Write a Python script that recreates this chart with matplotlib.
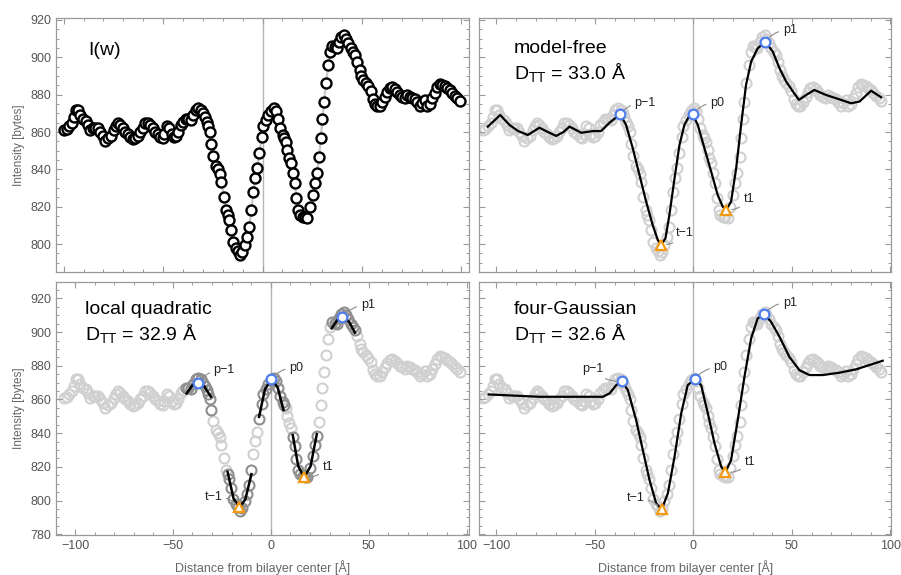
import numpy as np
import matplotlib
matplotlib.use("Agg")
import matplotlib.pyplot as plt
from matplotlib.ticker import MultipleLocator, FixedLocator

plt.rcParams["font.family"] = ["Liberation Sans", "DejaVu Sans"]

# measured intensity profile I(w)
dist = [-105.4, -104.3, -102.9, -101.7, -100.7, -99.5, -98.3, -97.3, -96.1, -94.4,
        -93.2, -92.2, -91.0, -89.8, -88.4, -87.1, -85.9, -84.7, -83.0, -81.6,
        -80.3, -79.0, -77.9, -76.9, -75.7, -74.5, -73.1, -71.8, -70.6, -69.4,
        -68.0, -66.7, -65.5, -64.3, -62.9, -61.7, -60.4, -59.2, -57.8, -56.5,
        -55.3, -54.4, -53.1, -51.9, -50.7, -49.7, -48.5, -47.3, -45.9, -44.6,
        -43.4, -42.2, -40.8, -39.5, -38.3, -37.1, -35.7, -34.5, -33.7, -32.7,
        -32.0, -31.1, -30.3, -29.4, -28.1, -26.9, -25.9, -25.2, -24.1, -23.0,
        -22.1, -21.3, -20.4, -19.2, -17.9, -16.7, -15.5, -14.6, -13.4, -12.2,
        -11.0, -9.9, -8.9, -8.0, -7.1, -5.8, -4.7, -3.9, -2.6, -1.2,
        0.3, 1.4, 2.6, 3.7, 4.8, 6.0, 6.8, 7.7, 8.5, 9.4,
        10.2, 11.2, 12.2, 13.1, 14.1, 15.0, 16.2, 17.3, 18.7, 20.1,
        21.3, 22.4, 23.5, 24.7, 25.5, 26.4, 27.2, 28.2, 29.4, 30.3,
        31.5, 32.7, 33.7, 34.9, 36.1, 37.4, 38.3, 39.5, 40.8, 42.0,
        43.0, 44.2, 45.4, 46.3, 47.3, 48.5, 49.7, 51.0, 52.2, 53.2,
        54.4, 55.6, 57.0, 58.2, 59.5, 60.7, 62.1, 63.3, 64.6, 65.8,
        67.2, 68.4, 69.7, 71.1, 72.3, 73.5, 74.8, 76.0, 77.4, 78.6,
        79.9, 81.1, 82.5, 83.7, 85.0, 86.2, 87.6, 88.8, 90.1, 91.3,
        92.7, 94.0, 95.3, 96.6]
intensity = [861, 861.4, 863, 865, 868, 872, 872, 869, 867, 866,
             864, 861, 862, 862, 862, 860, 858, 855, 857, 858,
             861, 863, 865, 864, 862, 860, 859, 857.5, 856, 857,
             858, 860, 862, 865, 865, 864, 862, 860, 859, 857.5,
             857, 859, 863, 862, 859, 857.5, 858, 860, 864, 865.5,
             867, 867, 866.5, 869, 872, 873, 872, 870, 868, 865.5,
             863, 860, 853.6, 847, 842, 840, 837.5, 833, 825, 818,
             815.5, 813, 807.5, 801, 797.7, 796.4, 794, 795.5, 799.5, 804,
             809.3, 818, 827.7, 835.5, 840.5, 848.6, 857.5, 863, 866.4, 869,
             871.4, 872.7, 871, 867, 862.3, 858.4, 857, 854.8, 850.4, 846,
             843.2, 838, 832.5, 824.8, 818.2, 815.5, 814.6, 814.3, 813.8, 819.6,
             826.3, 832.9, 838.2, 846.8, 857, 866.8, 876.2, 886.4, 896, 903,
             906, 905.4, 904.8, 908.4, 911, 912, 910, 907.5, 905, 903,
             901, 897.7, 893.2, 890, 888, 886.4, 884.6, 882, 877.5, 875,
             874, 874, 876.2, 879, 881.6, 883.4, 884, 883, 881.6, 880,
             879, 878, 880, 879, 878, 877.5, 876.2, 874, 875.4, 877,
             874, 875, 878, 881, 884.3, 885.7, 885, 884.5, 883.5, 882.5,
             881, 879.5, 878, 876.5]

# the two right panels show the profile slightly shifted
right_shift = -1.3

# model-free smooth curve
mf_x = [-104.4, -98.1, -93.4, -89.0, -84.1, -78.2, -73.9, -69.7, -66.0, -62.9,
        -57.0, -51.1, -46.9, -42.6, -37.2, -34.2, -30.8, -27.4, -24.0, -20.7,
        -18.1, -16.4, -14.2, -12.2, -9.6, -7.1, -4.6, -2.0, -0.4, 2.2,
        5.6, 9.0, 12.3, 14.9, 16.6, 19.1, 21.7, 24.2, 26.7, 29.3,
        32.6, 36.5, 40.3, 43.7, 47.1, 50.0, 53.5, 57.2, 61.4, 67.4,
        74.1, 80.0, 84.3, 90.2, 95.3]
mf_y = [862.9, 869.1, 863.8, 860.5, 858.4, 862.3, 860.0, 857.9, 860.0, 862.9,
        859.6, 860.5, 860.5, 865.0, 869.5, 863.8, 851.3, 837.0, 822.7, 810.2,
        802.2, 799.5, 803.1, 815.6, 835.2, 853.0, 863.8, 868.8, 869.5, 863.8,
        851.3, 838.8, 826.3, 820.0, 818.2, 822.7, 840.6, 863.8, 885.2, 897.7,
        904.8, 908.4, 903.0, 894.1, 887.0, 882.5, 877.2, 879.8, 882.5, 879.8,
        877.5, 875.4, 876.3, 882.1, 878.6]

# local quadratic segments (p-1, t-1, p0, t1, p1)
lq_x = [[-43.0, -40.0, -37.4, -34.0, -30.6],
        [-22.1, -19.0, -16.0, -13.0, -9.9],
        [-6.0, -3.0, 0.3, 3.5, 6.5],
        [11.2, 14.0, 17.0, 20.3, 23.5],
        [31.1, 34.0, 36.6, 40.0, 43.0]]
lq_y = [[863.6, 868.5, 869.9, 867.8, 861.6],
        [817.1, 801.1, 796.0, 800.8, 815.7],
        [849.7, 866.0, 872.1, 867.2, 853.7],
        [838.9, 820.5, 813.8, 820.4, 839.5],
        [902.2, 907.2, 908.7, 906.1, 899.6]]

# four-Gaussian model curve
fg_x = [-103.9, -78.2, -46.0, -42.6, -39.2, -36.4, -33.3, -29.1, -25.7, -22.3,
        -18.9, -16.1, -13.0, -9.6, -6.2, -2.9, 0.8, 3.9, 7.3, 10.7,
        14.1, 16.2, 19.1, 22.5, 25.9, 29.3, 32.6, 36.0, 39.4, 43.7,
        48.7, 53.8, 58.9, 65.6, 74.1, 82.6, 96.1]
fg_y = [863.0, 861.6, 861.6, 863.6, 868.5, 870.9, 865.6, 847.8, 830.0, 812.2,
        798.3, 794.8, 804.3, 826.0, 851.8, 868.5, 872.3, 868.5, 851.8, 834.0,
        820.1, 816.7, 824.0, 847.8, 873.5, 896.3, 908.1, 910.7, 906.1, 897.2,
        885.3, 877.4, 874.5, 874.5, 875.9, 877.9, 883.0]

# peaks / troughs per panel: (x, y) of p-1, p0, p1 and t-1, t1
names_p = ["p\u22121", "p0", "p1"]
names_t = ["t\u22121", "t1"]
mf_peaks = [(-37.2, 869.5), (-0.4, 869.5), (36.5, 908.4)]
mf_troughs = [(-16.4, 799.5), (16.6, 818.2)]
lq_peaks = [(-37.4, 869.9), (0.3, 872.1), (36.6, 908.7)]
lq_troughs = [(-16.0, 796.0), (17.0, 813.8)]
fg_peaks = [(-36.4, 870.9), (0.8, 872.3), (36.0, 910.7)]
fg_troughs = [(-16.1, 794.8), (16.2, 816.7)]

# label positions (x, y, horizontal alignment)
mf_plab = [(-29.9, 875.7, "left"), (8.5, 875.7, "left"), (45.3, 914.6, "left")]
mf_tlab = [(-9.1, 805.7, "left"), (25.4, 824.0, "left")]
lq_plab = [(-29.2, 877.5, "left"), (9.3, 878.8, "left"), (45.9, 916.0, "left")]
lq_tlab = [(-24.8, 802.2, "right"), (26.4, 820.0, "left")]
fg_plab = [(-45.7, 877.9, "right"), (10.2, 879.0, "left"), (45.3, 917.4, "left")]
fg_tlab = [(-24.9, 801.3, "right"), (25.9, 823.0, "left")]

BLUE = "#4d7ded"
ORANGE = "#f39a12"
LIGHT = "#d0d0d0"
FRAME = "#9a9a9a"

fig = plt.figure(figsize=(9.01, 5.75), dpi=100)
ax_tl = fig.add_axes([0.0622, 0.5275, 0.4587, 0.4407])
ax_tr = fig.add_axes([0.532, 0.5275, 0.4569, 0.4407])
ax_bl = fig.add_axes([0.0622, 0.0696, 0.4587, 0.4405])
ax_br = fig.add_axes([0.532, 0.0696, 0.4569, 0.4405])


def rahmen(ax, xlim, ylim, xlabels, ylabels):
    ax.set_xlim(*xlim)
    ax.set_ylim(*ylim)
    for s in ax.spines.values():
        s.set_color(FRAME)
        s.set_linewidth(0.9)
    ax.yaxis.set_major_locator(MultipleLocator(20))
    ax.yaxis.set_minor_locator(MultipleLocator(5))
    ax.tick_params(which="both", direction="in", top=True, right=True,
                   colors=FRAME, labelcolor="#555555", labelsize=9)
    ax.tick_params(which="major", length=4.5, width=0.8)
    ax.tick_params(which="minor", length=2.5, width=0.7)
    if not xlabels:
        ax.tick_params(labelbottom=False)
    if not ylabels:
        ax.tick_params(labelleft=False)
    else:
        ax.set_ylabel("Intensity [bytes]", color="#666666", fontsize=8.5, labelpad=4)


def beschrifte(ax, peaks, troughs, plab, tlab):
    for (px, py), name, (lx, ly, ha) in zip(peaks, names_p, plab):
        ax.plot(px, py, "o", ms=7, mfc="white", mec=BLUE, mew=1.6, zorder=6)
        ax.annotate(name, xy=(px, py), xytext=(lx, ly), ha=ha, va="center",
                    fontsize=9, color="#222222", zorder=7,
                    arrowprops=dict(arrowstyle="-", color="#8c8c8c", lw=0.8,
                                    shrinkA=1, shrinkB=4,
                                    connectionstyle="arc3,rad=0.25"))
    for (px, py), name, (lx, ly, ha) in zip(troughs, names_t, tlab):
        ax.plot(px, py, "^", ms=7, mfc="white", mec=ORANGE, mew=1.6, zorder=6)
        ax.annotate(name, xy=(px, py), xytext=(lx, ly), ha=ha, va="center",
                    fontsize=9, color="#222222", zorder=7,
                    arrowprops=dict(arrowstyle="-", color="#8c8c8c", lw=0.8,
                                    shrinkA=1, shrinkB=4,
                                    connectionstyle="arc3,rad=-0.25"))


def titel(ax, zeile1, zeile2, x, y1, y2):
    ax.text(x, y1, zeile1, transform=ax.transAxes, fontsize=14, va="baseline")
    if zeile2:
        ax.text(x, y2, zeile2, transform=ax.transAxes, fontsize=14, va="baseline")


top_ylim = (785.2, 920.9)
bot_ylim = (779.6, 929.9)
left_xlim = (-109.7, 101.4)
right_xlim = (-108.7, 100.3)

d = np.array(dist)
inten = np.array(intensity)
d_right = d + right_shift

# top left: raw profile
rahmen(ax_tl, left_xlim, top_ylim, False, True)
tl_major = [-105.8, -54.9, -4.1, 46.6, 97.4]
ax_tl.xaxis.set_major_locator(FixedLocator(tl_major))
ax_tl.xaxis.set_minor_locator(FixedLocator(np.arange(-105.8, 101, 10.16)))
ax_tl.axvline(-4.1, color="#b5b5b5", lw=1, zorder=0)
ax_tl.plot(d, inten, color="#c8c8c8", lw=1.6, zorder=1)
ax_tl.plot(d, inten, "o", ms=7.2, mfc="white", mec="black", mew=1.7, zorder=2)
titel(ax_tl, "I(w)", None, 0.077, 0.855, None)

# top right: model-free
rahmen(ax_tr, right_xlim, top_ylim, False, False)
ax_tr.xaxis.set_major_locator(MultipleLocator(50))
ax_tr.xaxis.set_minor_locator(MultipleLocator(10))
ax_tr.axvline(0, color="#b5b5b5", lw=1, zorder=0)
ax_tr.plot(d_right, inten, "o", ms=7.2, mfc="none", mec=LIGHT, mew=1.5, zorder=1)
ax_tr.plot(mf_x, mf_y, color="black", lw=1.6, zorder=3)
beschrifte(ax_tr, mf_peaks, mf_troughs, mf_plab, mf_tlab)
titel(ax_tr, "model-free", "$\\mathregular{D_{TT}}$ = 33.0 Å", 0.083, 0.862, 0.76)

# bottom left: local quadratic
rahmen(ax_bl, left_xlim, bot_ylim, True, True)
ax_bl.xaxis.set_major_locator(MultipleLocator(50))
ax_bl.xaxis.set_minor_locator(MultipleLocator(10))
ax_bl.axvline(0, color="#b5b5b5", lw=1, zorder=0)
used = np.zeros(len(d), dtype=bool)
for sx in lq_x:
    used |= (d >= min(sx) - 0.5) & (d <= max(sx) + 0.5)
ax_bl.plot(d[~used], inten[~used], "o", ms=7.2, mfc="none", mec=LIGHT, mew=1.5, zorder=1)
ax_bl.plot(d[used], inten[used], "o", ms=7.2, mfc="none", mec="#8f8f8f", mew=1.5, zorder=2)
for sx, sy in zip(lq_x, lq_y):
    ax_bl.plot(sx, sy, color="black", lw=1.8, zorder=3)
beschrifte(ax_bl, lq_peaks, lq_troughs, lq_plab, lq_tlab)
titel(ax_bl, "local quadratic", "$\\mathregular{D_{TT}}$ = 32.9 Å", 0.070, 0.871, 0.77)
ax_bl.set_xlabel("Distance from bilayer center [Å]", color="#666666", fontsize=9, labelpad=6)

# bottom right: four-Gaussian
rahmen(ax_br, right_xlim, bot_ylim, True, False)
ax_br.xaxis.set_major_locator(MultipleLocator(50))
ax_br.xaxis.set_minor_locator(MultipleLocator(10))
ax_br.axvline(0, color="#b5b5b5", lw=1, zorder=0)
ax_br.plot(d_right, inten, "o", ms=7.2, mfc="none", mec=LIGHT, mew=1.5, zorder=1)
ax_br.plot(fg_x, fg_y, color="black", lw=1.6, zorder=3)
beschrifte(ax_br, fg_peaks, fg_troughs, fg_plab, fg_tlab)
titel(ax_br, "four-Gaussian", "$\\mathregular{D_{TT}}$ = 32.6 Å", 0.083, 0.871, 0.77)
ax_br.set_xlabel("Distance from bilayer center [Å]", color="#666666", fontsize=9, labelpad=6)

fig.savefig("out.png", dpi=100)
